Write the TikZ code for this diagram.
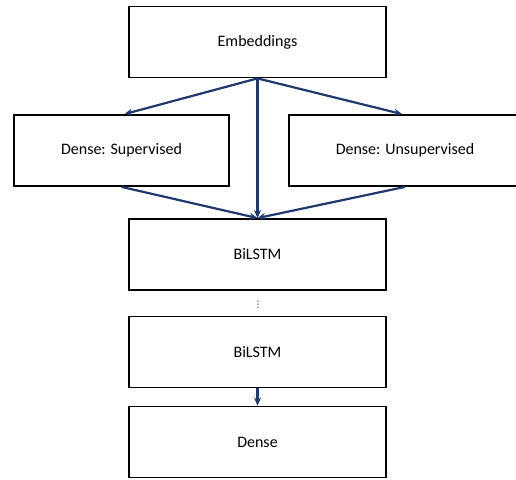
\documentclass[tikz,border=0pt]{standalone}
\usepackage{fontspec}
\setmainfont{Carlito}
\newfontfamily\symfont{DejaVu Sans}
\usepackage{tikz}
\usetikzlibrary{arrows.meta}
\definecolor{navy}{RGB}{31,56,110}

\begin{document}
\begin{tikzpicture}[x=1pt, y=1pt,
box/.style={draw, line width=1.8pt, minimum height=71pt, inner sep=0pt, font=\fontsize{16}{18}\selectfont},
link/.style={-{Stealth[length=8pt, width=7pt]}, draw=navy, line width=2.2pt}]
\useasboundingbox (0,0) rectangle (516,479);
\node[box, minimum width=257pt] (emb) at (257.5,437) {Embeddings};
\node[box, minimum width=215pt] (sup) at (121.5,328.5) {Dense: Supervised};
\node[box, minimum width=232pt] (unsup) at (405,328.5) {Dense: Unsupervised};
\node[box, minimum width=257pt] (bilA) at (257.5,224.5) {BiLSTM};
\node (dots) at (258,174) {\symfont\fontsize{9}{9}\selectfont ⋮};
\node[box, minimum width=257pt] (bilB) at (257.5,127) {BiLSTM};
\node[box, minimum width=257pt] (out) at (257.5,37) {Dense};
\draw[link] (emb.south) -- ([xshift=3pt]sup.north);
\draw[link] (emb.south) -- ([xshift=-3pt]unsup.north);
\draw[link] (emb.south) -- (bilA.north);
\draw[link] (sup.south) -- (bilA.north);
\draw[link] (unsup.south) -- (bilA.north);
\draw[link] (bilB.south) -- (out.north);
\end{tikzpicture}
\end{document}
